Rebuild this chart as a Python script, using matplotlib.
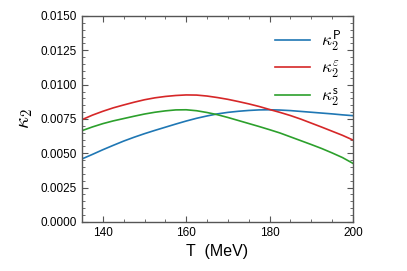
import matplotlib
matplotlib.use("Agg")
import matplotlib.pyplot as plt
from matplotlib.ticker import MultipleLocator, FormatStrFormatter

T = [135, 137.5, 140, 142.5, 145, 147.5, 150, 152.5, 155, 157.5, 160, 162.5, 165, 167.5,
     170, 172.5, 175, 177.5, 180, 182.5, 185, 187.5, 190, 192.5, 195, 197.5, 200]
kappa_P = [0.00459, 0.00492, 0.00526, 0.00558, 0.00589, 0.00617, 0.00643, 0.00667, 0.00690,
           0.00713, 0.00735, 0.00755, 0.00772, 0.00787, 0.00798, 0.00806, 0.00812, 0.00816,
           0.00817, 0.00815, 0.00811, 0.00805, 0.00799, 0.00793, 0.00787, 0.00780, 0.00774]
kappa_eps = [0.00745, 0.00778, 0.00806, 0.00831, 0.00852, 0.00872, 0.00890, 0.00904, 0.00914,
             0.00921, 0.00925, 0.00924, 0.00917, 0.00906, 0.00893, 0.00877, 0.00860, 0.00841,
             0.00819, 0.00798, 0.00775, 0.00749, 0.00720, 0.00691, 0.00661, 0.00631, 0.00597]
kappa_s = [0.00665, 0.00692, 0.00716, 0.00736, 0.00753, 0.00770, 0.00786, 0.00799, 0.00809,
           0.00816, 0.00817, 0.00810, 0.00797, 0.00781, 0.00761, 0.00739, 0.00717, 0.00695,
           0.00672, 0.00648, 0.00620, 0.00592, 0.00564, 0.00535, 0.00503, 0.00469, 0.00427]

plt.rcParams['font.family'] = ['Liberation Sans', 'DejaVu Sans']
plt.rcParams['mathtext.fontset'] = 'cm'

fig = plt.figure(figsize=(4.07, 2.71), dpi=100)
ax = fig.add_axes([0.2015, 0.181, 0.6655, 0.760])

ax.plot(T, kappa_P, color='#1f77b4', lw=1.2, label=r'$\kappa_2^{\mathsf{P}}$')
ax.plot(T, kappa_eps, color='#d62728', lw=1.2, label=r'$\kappa_2^{\varepsilon}$')
ax.plot(T, kappa_s, color='#2ca02c', lw=1.2, label=r'$\kappa_2^{\mathsf{s}}$')

ax.set_xlim(135, 200)
ax.set_ylim(0, 0.015)
ax.xaxis.set_major_locator(MultipleLocator(20))
ax.xaxis.set_minor_locator(MultipleLocator(5))
ax.yaxis.set_major_locator(MultipleLocator(0.0025))
ax.yaxis.set_minor_locator(MultipleLocator(0.0005))
ax.yaxis.set_major_formatter(FormatStrFormatter('%.4f'))

spine_c = '#555555'
for s in ax.spines.values():
    s.set_color(spine_c)
    s.set_linewidth(1.0)
ax.tick_params(which='both', direction='in', top=True, right=True, color=spine_c, labelsize=8.5)
ax.tick_params(which='major', length=4)
ax.tick_params(which='minor', length=2)

ax.set_xlabel('T  (MeV)', fontsize=11.5)
ax.set_ylabel(r'$\kappa_2$', fontsize=15)

ax.legend(loc='upper right', frameon=False, fontsize=12.5, handlelength=2.0,
          handletextpad=0.6, labelspacing=0.35, borderaxespad=0.3)

fig.savefig('out.png', dpi=100)
